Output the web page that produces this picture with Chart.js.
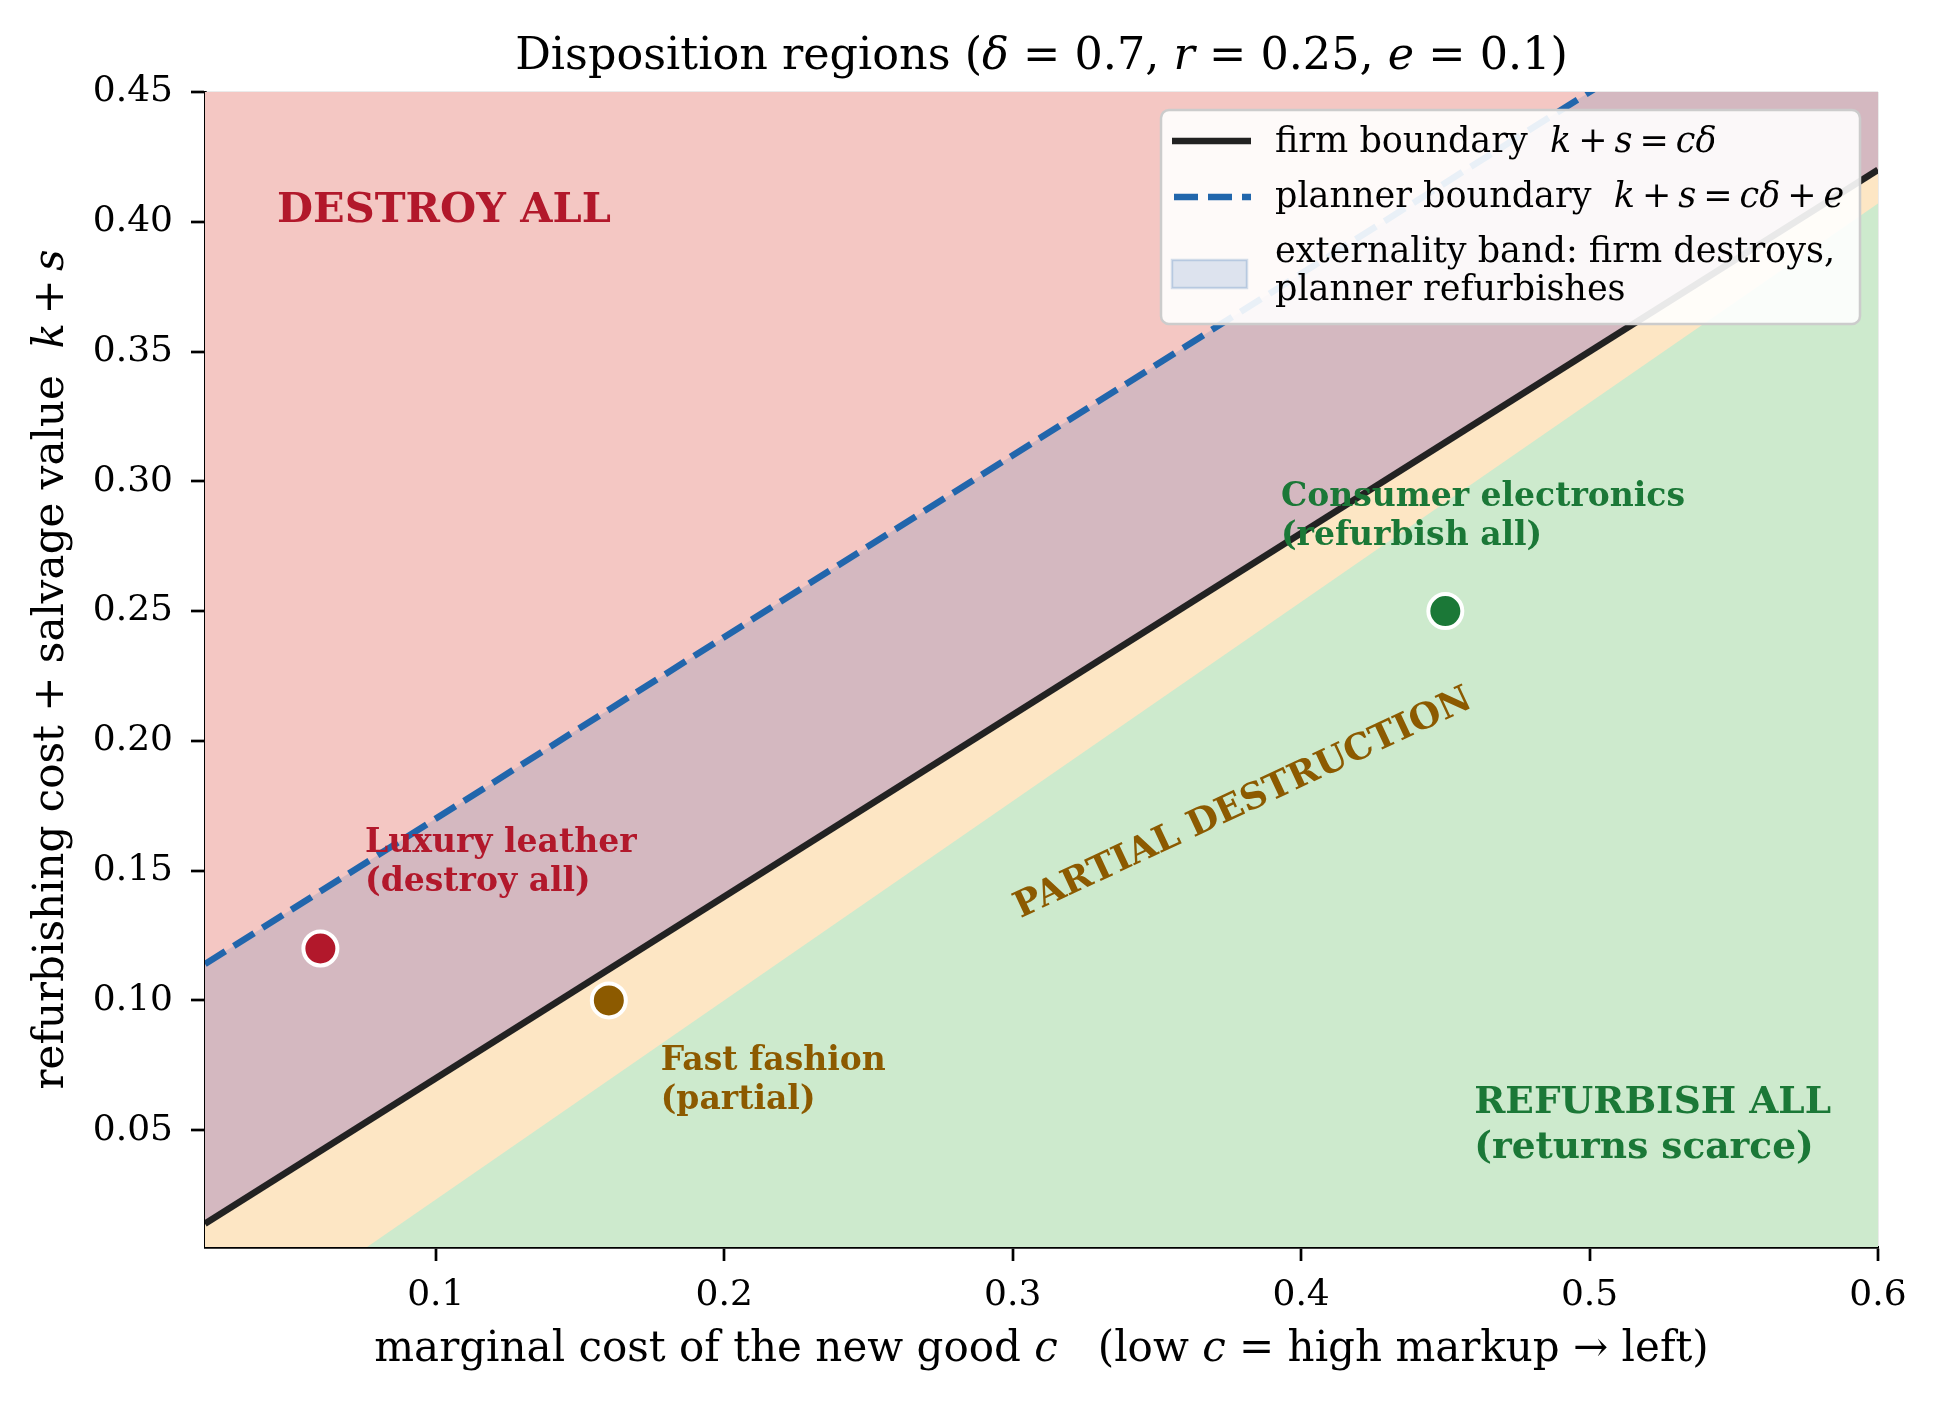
<!DOCTYPE html>
<html>
<head>
<meta charset="utf-8">
<script src="https://cdn.jsdelivr.net/npm/chart.js@4.4.0/dist/chart.umd.min.js"></script>
<style>
    body { margin: 0; background: #ffffff; }
</style>
</head>
<body>
<canvas id="js--chart" width="1939" height="1405"></canvas>
<script>
const xTicks = [0.1, 0.2, 0.3, 0.4, 0.5, 0.6];
const yTicks = [0.05, 0.10, 0.15, 0.20, 0.25, 0.30, 0.35, 0.40, 0.45];

// boundaries at both ends of the c range
const firmC = [0.02, 0.6];
const firmK = [0.014, 0.42];
const plannerC = [0.02, 0.6];
const plannerK = [0.114, 0.52];
// lower edge of the partial-destruction region
const partialC = [0.0762, 0.6];
const partialK = [0.005, 0.407];

const caseNames = ['Luxury leather', 'Fast fashion', 'Consumer electronics'];
const caseC = [0.06, 0.16, 0.45];
const caseK = [0.12, 0.10, 0.25];

const RED = '#b2182b';
const BROWN = '#8c5a00';
const GREEN = '#1b7837';
const BLUE = '#2166ac';
const caseColors = [RED, BROWN, GREEN];

const FONT = '"DejaVu Serif", serif';

const regionLabels = [
    { lines: ['DESTROY ALL'], c: 0.045, k: 0.40, color: RED, size: 41.5, gap: 50 },
    { lines: ['Luxury leather', '(destroy all)'], c: 0.0755, k: 0.1573, color: RED, size: 33, gap: 39.5 },
    { lines: ['Fast fashion', '(partial)'], c: 0.178, k: 0.0733, color: BROWN, size: 33, gap: 39.5 },
    { lines: ['Consumer electronics', '(refurbish all)'], c: 0.393, k: 0.2905, color: GREEN, size: 33, gap: 39.5 },
    { lines: ['REFURBISH ALL', '(returns scarce)'], c: 0.46, k: 0.0565, color: GREEN, size: 37.5, gap: 45 }
];

function pts(xs, ys) {
    return xs.map((x, i) => ({ x: x, y: ys[i] }));
}

// parts: [text, italic] pairs, or a number = extra gap in em
function richText(ctx, parts, x, y, size, align) {
    const font = (it) => (it ? 'italic ' : '') + size + 'px ' + FONT;
    const widthOf = p => {
        if (typeof p === 'number') return p * size;
        ctx.font = font(p[1]);
        return ctx.measureText(p[0]).width;
    };
    let total = 0;
    parts.forEach(p => { total += widthOf(p); });
    let cx = align === 'center' ? x - total / 2 : x;
    ctx.textAlign = 'left';
    parts.forEach(p => {
        const w = widthOf(p);
        if (typeof p !== 'number') {
            ctx.font = font(p[1]);
            ctx.fillText(p[0], cx, y);
        }
        cx += w;
    });
}

const G = 0.2;
const mathKS = [['k', true], G, ['+', false], G, ['s', true]];

const decorations = {
    id: 'decorations',
    afterDatasetsDraw(chart) {
        const ctx = chart.ctx;
        const xs = chart.scales.x;
        const ys = chart.scales.y;
        ctx.save();
        ctx.textBaseline = 'alphabetic';
        regionLabels.forEach(l => {
            ctx.fillStyle = l.color;
            ctx.font = 'bold ' + l.size + 'px ' + FONT;
            ctx.textAlign = 'left';
            l.lines.forEach((t, i) => {
                ctx.fillText(t, xs.getPixelForValue(l.c), ys.getPixelForValue(l.k) + i * l.gap);
            });
        });
        // rotated label along the band
        ctx.translate(xs.getPixelForValue(0.380), ys.getPixelForValue(0.1757));
        ctx.rotate(-25 * Math.PI / 180);
        ctx.fillStyle = BROWN;
        ctx.font = 'bold 36px ' + FONT;
        ctx.textAlign = 'center';
        ctx.textBaseline = 'middle';
        ctx.fillText('PARTIAL DESTRUCTION', 0, 0);
        ctx.restore();
    },
    afterDraw(chart) {
        const ctx = chart.ctx;
        const area = chart.chartArea;
        const cx = (area.left + area.right) / 2;
        ctx.save();
        ctx.fillStyle = '#000';
        ctx.textBaseline = 'alphabetic';

        richText(ctx, [['Disposition regions (', false], ['δ', true], [' = 0.7, ', false],
            ['r', true], [' = 0.25, ', false], ['e', true], [' = 0.1)', false]], cx, 69, 44.5, 'center');

        richText(ctx, [['marginal cost of the new good ', false], ['c', true], ['   (low ', false],
            ['c', true], [' = high markup → left)', false]], cx, 1361, 42, 'center');

        ctx.save();
        ctx.translate(63, (area.top + area.bottom) / 2);
        ctx.rotate(-Math.PI / 2);
        richText(ctx, [['refurbishing cost + salvage value  ', false]].concat(mathKS), 0, 0, 42, 'center');
        ctx.restore();

        // legend
        const bx = 1161, by = 110, bw = 699, bh = 214;
        ctx.beginPath();
        ctx.roundRect(bx, by, bw, bh, 8);
        ctx.fillStyle = 'rgba(255,255,255,0.9)';
        ctx.fill();
        ctx.lineWidth = 2.5;
        ctx.strokeStyle = '#cccccc';
        ctx.stroke();

        ctx.lineWidth = 6.5;
        ctx.strokeStyle = '#222222';
        ctx.beginPath();
        ctx.moveTo(1172, 141);
        ctx.lineTo(1251, 141);
        ctx.stroke();

        ctx.lineWidth = 6.5;
        ctx.strokeStyle = BLUE;
        ctx.setLineDash([24, 10]);
        ctx.beginPath();
        ctx.moveTo(1174, 197);
        ctx.lineTo(1251, 197);
        ctx.stroke();
        ctx.setLineDash([]);

        ctx.fillStyle = 'rgba(33,102,172,0.15)';
        ctx.fillRect(1172, 260, 75, 28);
        ctx.strokeStyle = 'rgba(33,102,172,0.2)';
        ctx.lineWidth = 2.5;
        ctx.strokeRect(1172, 260, 75, 28);

        ctx.fillStyle = '#000';
        richText(ctx, [['firm boundary  ', false]].concat(mathKS, [G, ['=', false], G, ['cδ', true]]),
            1275, 152, 35, 'left');
        richText(ctx, [['planner boundary  ', false]].concat(mathKS, [G, ['=', false], G, ['cδ', true],
            G, ['+', false], G, ['e', true]]), 1275, 207, 35, 'left');
        richText(ctx, [['externality band: firm destroys,', false]], 1275, 262, 35, 'left');
        richText(ctx, [['planner refurbishes', false]], 1275, 300, 35, 'left');
        ctx.restore();
    }
};

const fillLine = {
    type: 'line',
    pointRadius: 0,
    borderWidth: 0,
    borderColor: 'transparent',
    tension: 0
};

const data = {
    datasets: [
        Object.assign({}, fillLine, { data: pts(firmC, firmK), fill: 'end', backgroundColor: '#f4c7c3', order: 7 }),
        Object.assign({}, fillLine, { data: pts(firmC, firmK), fill: 'start', backgroundColor: '#fde6c4', order: 6 }),
        Object.assign({}, fillLine, { data: pts(partialC, partialK), fill: 'start', backgroundColor: '#cdeacd', order: 5 }),
        Object.assign({}, fillLine, { data: pts(plannerC, plannerK), fill: 0, backgroundColor: 'rgba(33,102,172,0.15)', order: 4 }),
        {
            type: 'line', data: pts(firmC, firmK), borderColor: '#222222', borderWidth: 6.5,
            pointRadius: 0, fill: false, order: 3
        },
        {
            type: 'line', data: pts(plannerC, plannerK), borderColor: BLUE, borderWidth: 6.5,
            borderDash: [24, 10], pointRadius: 0, fill: false, order: 2
        },
        {
            type: 'scatter', label: 'cases',
            data: pts(caseC, caseK),
            backgroundColor: caseColors,
            pointBackgroundColor: caseColors,
            pointBorderColor: '#ffffff',
            pointBorderWidth: 4,
            pointRadius: 17,
            order: 1
        }
    ]
};

const gridStyle = {
    color: 'rgba(110,110,110,0.14)',
    lineWidth: 2,
    tickColor: '#000000',
    tickLength: 14,
    tickWidth: 2.7
};

const config = {
    type: 'line',
    data: data,
    options: {
        responsive: false,
        animation: false,
        devicePixelRatio: 1,
        events: [],
        layout: { padding: { top: 92, right: 61, left: 0, bottom: 0 } },
        scales: {
            x: {
                type: 'linear',
                min: 0.02,
                max: 0.6,
                z: 1,
                grid: gridStyle,
                border: { display: true, color: '#000000', width: 2.7 },
                ticks: {
                    color: '#000000',
                    font: { family: FONT, size: 36 },
                    padding: 13,
                    maxRotation: 0,
                    callback: v => v.toFixed(1)
                },
                afterBuildTicks: scale => { scale.ticks = xTicks.map(v => ({ value: v })); },
                afterFit: scale => { scale.height = 158; }
            },
            y: {
                type: 'linear',
                min: 0.005,
                max: 0.45,
                z: 1,
                grid: gridStyle,
                border: { display: true, color: '#000000', width: 2.7 },
                ticks: {
                    color: '#000000',
                    font: { family: FONT, size: 36 },
                    padding: 18,
                    callback: v => v.toFixed(2)
                },
                afterBuildTicks: scale => { scale.ticks = yTicks.map(v => ({ value: v })); },
                afterFit: scale => { scale.width = 205; }
            }
        },
        plugins: {
            legend: { display: false },
            tooltip: { enabled: false }
        }
    },
    plugins: [decorations]
};

new Chart(document.getElementById('js--chart'), config);
</script>
</body>
</html>
